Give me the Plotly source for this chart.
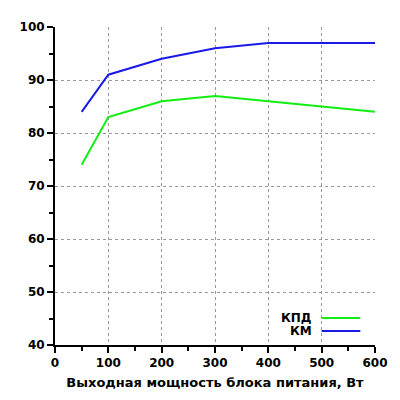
import plotly.graph_objects as go

# Data
power = [50, 100, 200, 300, 400, 500, 600]
kpd = [74, 83, 86, 87, 86, 85, 84]
km = [84, 91, 94, 96, 97, 97, 97]

series_names = ['КПД', 'КМ']
series_colors = ['#11ee11', '#1a1ae6']

fig = go.Figure()
fig.add_trace(go.Scatter(x=power, y=kpd, mode='lines', name=series_names[0],
                         line=dict(color=series_colors[0], width=2)))
fig.add_trace(go.Scatter(x=power, y=km, mode='lines', name=series_names[1],
                         line=dict(color=series_colors[1], width=2)))

font_main = 'DejaVu Sans'

fig.update_xaxes(
    range=[0, 600], dtick=100, showline=True, linecolor='black', linewidth=2,
    ticks='outside', ticklen=6, tickwidth=2, tickcolor='black',
    minor=dict(dtick=50, ticks='outside', ticklen=4, tickwidth=1.5, tickcolor='black', showgrid=False),
    showgrid=True, gridcolor='#999999', griddash='dot', gridwidth=1,
    zeroline=False,
    tickfont=dict(family=font_main, size=12, color='black', weight='bold'),
    title=dict(text='Выходная мощность блока питания, Вт',
               font=dict(family=font_main, size=13, color='black', weight='bold'),
               standoff=8),
)
fig.update_yaxes(
    range=[40, 100], dtick=10, showline=True, linecolor='black', linewidth=2,
    ticks='outside', ticklen=6, tickwidth=2, tickcolor='black',
    minor=dict(dtick=5, ticks='outside', ticklen=4, tickwidth=1.5, tickcolor='black', showgrid=False),
    showgrid=True, gridcolor='#999999', griddash='dot', gridwidth=1,
    zeroline=False,
    tickfont=dict(family=font_main, size=12, color='black', weight='bold'),
)

# Custom legend: text on the left, line sample on the right
legend_y = [0.085, 0.044]
for name, color, ly in zip(series_names, series_colors, legend_y):
    fig.add_annotation(x=0.808, y=ly, xref='paper', yref='paper', text=name,
                       showarrow=False, xanchor='right', yanchor='middle',
                       font=dict(family=font_main, size=12, color='black', weight='bold'))
    fig.add_shape(type='line', xref='paper', yref='paper', x0=0.833, x1=0.954,
                  y0=ly, y1=ly, line=dict(color=color, width=2))

# page has an 8px body margin, so the figure is a bit smaller than the window
fig.update_layout(
    width=392, height=392, showlegend=False,
    plot_bgcolor='white', paper_bgcolor='white',
    margin=dict(l=45, r=16, t=13, b=48),
)

fig.write_html("out.html")
